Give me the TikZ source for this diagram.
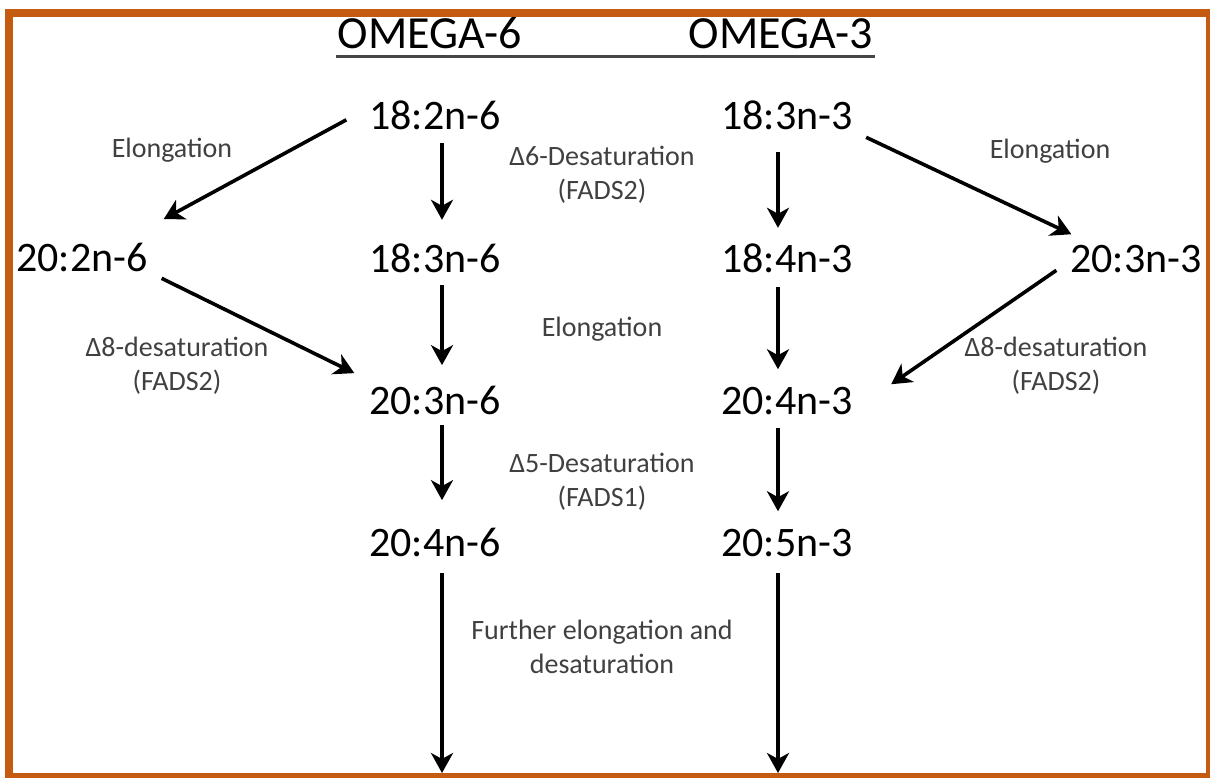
\documentclass[tikz,border=0pt]{standalone}
\usepackage{fontspec}
\setmainfont{Carlito}
\usetikzlibrary{arrows.meta,calc}
\definecolor{frameorange}{RGB}{197,90,17}
\definecolor{labelgray}{RGB}{64,64,64}
\definecolor{ruleGray}{RGB}{70,70,70}
\tikzset{
  acid/.style={inner sep=0pt, outer sep=0pt, anchor=base, text=black, font=\fontsize{42}{50}\selectfont},
  heading/.style={inner sep=0pt, outer sep=0pt, anchor=base, text=black, font=\fontsize{46}{55}\selectfont},
  enzyme/.style={inner sep=0pt, outer sep=0pt, anchor=base, text=labelgray, align=center, font=\fontsize{28}{34}\selectfont},
  arr/.style={draw=black, line width=3.6pt, -{Stealth[length=20pt,width=22pt,inset=6pt]}},
}
\begin{document}
\begin{tikzpicture}[x=1pt,y=-1pt]
\useasboundingbox (0,0) rectangle (1210,778);
\fill[white] (0,0) rectangle (1210,778);
\draw[frameorange, line width=8pt] (9,13) rectangle (1210,777);

% headings
\node[heading] (h6) at (430,49) {OMEGA-6};
\node[heading] (h3) at (781,49) {OMEGA-3};
\draw[ruleGray, line width=3pt] ($(h6.base west)+(-2,8)$) -- ($(h3.base east)+(2,8)$);

% omega-6 column
\node[acid] (n62) at (435,130) {18:2n-6};
\node[acid] (n63) at (435,272) {18:3n-6};
\node[acid] (n36) at (435,414) {20:3n-6};
\node[acid] (n46) at (435,556) {20:4n-6};
\node[acid] (l26) at (82,271) {20:2n-6};

% omega-3 column
\node[acid] (m33) at (787,130) {18:3n-3};
\node[acid] (m43) at (787,272) {18:4n-3};
\node[acid] (m34) at (787,414) {20:4n-3};
\node[acid] (m35) at (787,556) {20:5n-3};
\node[acid] (r33) at (1136,272) {20:3n-3};

% free ends at the bottom
\coordinate (e1) at (442,773);
\coordinate (e2) at (778,773);

% enzyme labels (base = baseline of last line)
\node[enzyme] (elL) at (172,158) {Elongation};
\node[enzyme] (elR) at (1050,159) {Elongation};
\node[enzyme] (d6) at (602,200) {Δ6-Desaturation\\(FADS2)};
\node[enzyme] (elM) at (602,336) {Elongation};
\node[enzyme] (d8L) at (177,390) {Δ8-desaturation\\(FADS2)};
\node[enzyme] (d8R) at (1056,390) {Δ8-desaturation\\(FADS2)};
\node[enzyme] (d5) at (602,506) {Δ5-Desaturation\\(FADS1)};
\node[enzyme] (fur) at (602,673) {Further elongation and\\desaturation};

% vertical arrows, omega-6
\draw[arr] ($(n62.south)+(7,13)$) -- ($(n63.north)+(7,-23.5)$);
\draw[arr] ($(n63.south)+(7,13)$) -- ($(n36.north)+(7,-20.5)$);
\draw[arr] ($(n36.south)+(7,11)$) -- ($(n46.north)+(7,-27.5)$);
\draw[arr] ($(n46.south)+(7,17)$) -- (e1);

% vertical arrows, omega-3
\draw[arr] ($(m33.south)+(-9,22)$) -- ($(m43.north)+(-9,-15.5)$);
\draw[arr] ($(m43.south)+(-9,15)$) -- ($(m34.north)+(-9,-17.5)$);
\draw[arr] ($(m34.south)+(-9,14)$) -- ($(m35.north)+(-9,-17.5)$);
\draw[arr] ($(m35.south)+(-9,17)$) -- (e2);

% diagonal arrows
\draw[arr] ($(n62.west)+(-23,4)$) -- ($(l26.north east)+(16,-23.5)$);
\draw[arr] ($(l26.south east)+(14,7)$) -- ($(n36.north west)+(-15,-12.5)$);
\draw[arr] ($(m33.south east)+(13.5,7)$) -- ($(r33.north west)+(1,-10.5)$);
\draw[arr] ($(r33.south west)+(-14,-2)$) -- ($(m34.north east)+(38.5,-2.5)$);
\end{tikzpicture}
\end{document}
